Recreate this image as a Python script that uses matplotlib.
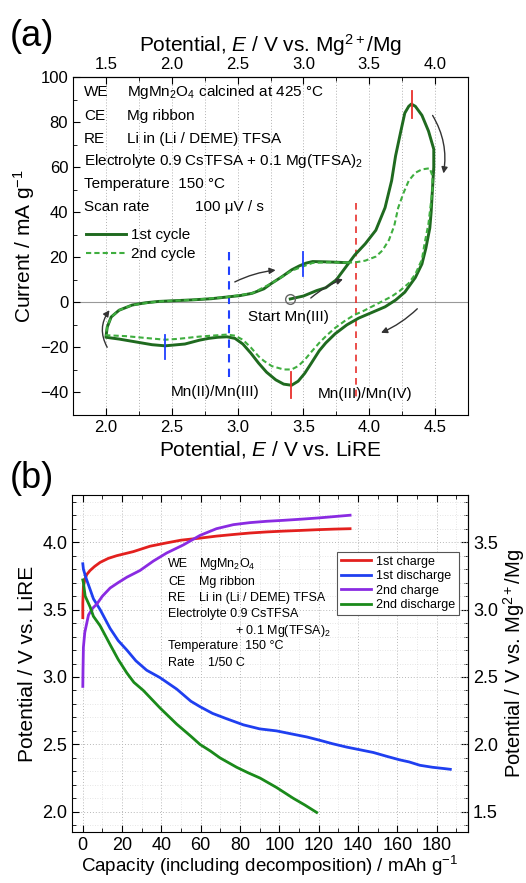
import matplotlib
matplotlib.use("Agg")
import matplotlib.pyplot as plt
from matplotlib.ticker import MultipleLocator, FormatStrFormatter

plt.rcParams['font.family'] = ['Liberation Sans', 'DejaVu Sans']
plt.rcParams['mathtext.fontset'] = 'custom'
plt.rcParams['mathtext.rm'] = 'Liberation Sans'
plt.rcParams['mathtext.it'] = 'Liberation Sans:italic'

# ---- (a) cyclic voltammogram ----
cv1_x = [3.40, 3.50, 3.60, 3.67, 3.75, 3.82, 3.89, 3.97, 4.05, 4.12, 4.17, 4.20, 4.24, 4.27, 4.30, 4.32,
         4.35, 4.40, 4.45, 4.49, 4.49, 4.48, 4.47, 4.46, 4.43, 4.40, 4.35, 4.27, 4.20, 4.12, 4.00, 3.92,
         3.83, 3.74, 3.67, 3.62, 3.56, 3.51, 3.46, 3.41, 3.35, 3.29, 3.22, 3.16, 3.10, 3.04, 2.98, 2.92,
         2.85, 2.78, 2.71, 2.60, 2.45, 2.35, 2.23, 2.10, 2.00, 2.01, 2.04, 2.10, 2.20, 2.30, 2.40, 2.55,
         2.66, 2.80, 2.91, 3.02, 3.11, 3.20, 3.26, 3.34, 3.41, 3.47, 3.52, 3.57, 3.65, 3.75, 3.83]
cv1_y = [1.5, 2.8, 5.2, 6.5, 10, 15.5, 21, 26, 32, 42, 54, 65, 76, 84, 87, 88,
         87, 83, 76, 68, 60, 50, 40, 33, 24, 17, 11, 4.5, 1, -2, -5, -7,
         -10, -14, -18, -21.5, -27, -31.5, -35, -36.8, -36.3, -34.4, -31, -27, -22.5, -18.5, -16, -15.3,
         -15.5, -16, -16.8, -18.5, -19.3, -18.8, -17.6, -16.3, -15.5, -11, -6.5, -3.5, -1.2, -0.2, 0.4, 0.8,
         1.1, 1.6, 2.3, 3, 4, 6, 8.5, 11.5, 14.4, 16.2, 17.4, 18.1, 18, 17.8, 17.6]

cv2_x = [3.83, 3.90, 3.97, 4.05, 4.10, 4.15, 4.19, 4.22, 4.26, 4.30, 4.35, 4.40, 4.46, 4.48, 4.48, 4.46,
         4.45, 4.42, 4.40, 4.35, 4.30, 4.23, 4.17, 4.10, 4.02, 3.95, 3.89, 3.82, 3.74, 3.68, 3.62, 3.56,
         3.51, 3.46, 3.41, 3.35, 3.26, 3.20, 3.16, 3.10, 3.04, 2.98, 2.92, 2.85, 2.71, 2.55, 2.45, 2.30,
         2.15, 2.00, 2.01, 2.04, 2.10, 2.20, 2.40, 2.66, 2.91, 3.11, 3.26, 3.41, 3.50, 3.57, 3.70, 3.83]
cv2_y = [17.6, 17.8, 18.5, 20.3, 23, 27.7, 34, 42, 48.5, 54, 57.5, 59, 59.5, 56, 50, 40,
         35, 26, 19, 12.5, 8.5, 5, 2.6, 0.5, -1.9, -4, -5.5, -8, -11.4, -14.5, -18, -22,
         -25.5, -28.3, -29.8, -29.8, -28.3, -26, -24, -20, -16.6, -14.8, -14.3, -14.6, -15.2, -16.2, -16.6, -15.8,
         -15.0, -14.6, -11, -6.5, -3.5, -1.2, 0.4, 1.1, 2.3, 4, 8.5, 14.0, 16.0, 17.5, 17.8, 17.6]

# ---- (b) charge / discharge ----
ch1_x = [0, 0, 0.3, 1, 2, 3.7, 6, 8.8, 13, 17.3, 25.7, 34.2, 42.7, 50, 59.6, 68, 76.6, 85, 93.6, 102,
         110.5, 120, 128, 136]
ch1_y = [3.44, 3.55, 3.67, 3.72, 3.76, 3.79, 3.82, 3.85, 3.88, 3.90, 3.93, 3.97, 3.995, 4.015, 4.03, 4.045,
         4.057, 4.068, 4.076, 4.082, 4.087, 4.093, 4.097, 4.10]
dis1_x = [0, 0.3, 1.5, 3.7, 5.4, 8.8, 13.9, 18, 22.4, 27, 32.5, 39.3, 47.8, 55, 59.6, 66, 73.2, 81.7, 90,
          98.6, 107.1, 114, 120.7, 127, 134.2, 141, 147.8, 155, 161.3, 166, 171.5, 178, 184.2, 187]
dis1_y = [3.84, 3.80, 3.74, 3.65, 3.58, 3.50, 3.36, 3.27, 3.20, 3.12, 3.05, 2.995, 2.91, 2.82, 2.78, 2.73,
          2.69, 2.645, 2.615, 2.60, 2.575, 2.555, 2.53, 2.505, 2.48, 2.46, 2.44, 2.41, 2.385, 2.37, 2.345,
          2.33, 2.32, 2.315]
ch2_x = [0, 0.1, 0.3, 1, 2.9, 5, 7.1, 10, 13.9, 18, 22.4, 29.1, 35.9, 42.7, 51.2, 59.6, 68, 76.6, 85,
         93.6, 102, 110.5, 120, 128, 136]
ch2_y = [2.93, 3.05, 3.22, 3.33, 3.46, 3.51, 3.54, 3.60, 3.66, 3.70, 3.74, 3.79, 3.86, 3.92, 3.98, 4.05,
         4.10, 4.13, 4.145, 4.155, 4.162, 4.17, 4.18, 4.19, 4.20]
dis2_x = [0, 0.3, 1.2, 3.7, 5.4, 8.8, 13.9, 18, 22.4, 26, 30.8, 39.3, 47.8, 55, 59.6, 65, 69.8, 78.3, 84,
          90.2, 98.6, 107.1, 113, 119]
dis2_y = [3.72, 3.70, 3.60, 3.52, 3.45, 3.38, 3.24, 3.13, 3.03, 2.96, 2.90, 2.77, 2.65, 2.56, 2.50, 2.45,
          2.40, 2.33, 2.29, 2.25, 2.18, 2.10, 2.05, 1.995]

W, H = 526, 883
fig = plt.figure(figsize=(W / 100, H / 100), dpi=100)


def fx(px):
    return px / W


def fy(py):
    return 1 - py / H


# ================= panel (a) =================
ax = fig.add_axes([fx(73), fy(415), (468 - 73) / W, (415 - 77) / H])
ax.set_xlim(1.75, 4.75)
ax.set_ylim(-50, 100)
ax.xaxis.set_major_locator(MultipleLocator(0.5))
ax.xaxis.set_minor_locator(MultipleLocator(0.25))
ax.yaxis.set_major_locator(MultipleLocator(20))
ax.yaxis.set_minor_locator(MultipleLocator(10))
ax.tick_params(which='both', direction='in', labelsize=12)
ax.tick_params(which='major', length=5)
ax.tick_params(which='minor', length=3)
ax.xaxis.set_major_formatter(FormatStrFormatter('%.1f'))
for xv in [2.0 + 0.25 * i for i in range(11)]:
    ax.axvline(xv, color='#b0b0b0', lw=0.7, ls=(0, (1, 2)), zorder=0)
ax.axhline(0, color='#999999', lw=0.8, zorder=0)

ax.plot(cv1_x, cv1_y, color='#1f6a1f', lw=2.1, label='1st cycle', zorder=3)
ax.plot(cv2_x, cv2_y, color='#3fae3f', lw=1.5, ls=(0, (2.5, 1.5)), label='2nd cycle', zorder=4)

ax.set_xlabel('Potential, $E$ / V vs. LiRE', fontsize=15, labelpad=3)
ax.set_ylabel('Current / mA g$^{-1}$', fontsize=15, labelpad=2)

top = ax.secondary_xaxis('top', functions=(lambda v: v - 0.5, lambda v: v + 0.5))
top.xaxis.set_major_locator(MultipleLocator(0.5))
top.xaxis.set_minor_locator(MultipleLocator(0.25))
top.tick_params(which='both', direction='in', labelsize=12)
top.tick_params(which='major', length=5)
top.tick_params(which='minor', length=3)
top.xaxis.set_major_formatter(FormatStrFormatter('%.1f'))
top.set_xlabel('Potential, $E$ / V vs. Mg$^{2+}$/Mg', fontsize=15, labelpad=4)

# markers
ax.plot([4.325, 4.325], [82, 94], color='#e8302c', lw=1.3, zorder=5)
ax.plot([3.405, 3.405], [-31, -42.5], color='#e8302c', lw=1.3, zorder=5)
ax.plot([2.45, 2.45], [-14.4, -25.2], color='#2040ff', lw=1.3, zorder=5)
ax.plot([3.50, 3.50], [11.8, 22.5], color='#2040ff', lw=1.3, zorder=5)
ax.plot([2.935, 2.935], [22.5, -34.4], color='#2040ff', lw=1.5, ls=(0, (4, 3)), zorder=2)
ax.plot([3.90, 3.90], [44, -42], color='#e8302c', lw=1.2, ls=(0, (4, 3)), zorder=2)
ax.plot([3.40], [1.4], marker='o', ms=7, mfc='none', mec='#666666', mew=1.0, zorder=6)

arrow = dict(arrowstyle='-|>', color='#333333', lw=1.0, mutation_scale=9)
ax.annotate('', xy=(3.31, 14.4), xytext=(2.96, 8.5),
            arrowprops=dict(arrow, connectionstyle='arc3,rad=-0.1'))
ax.annotate('', xy=(3.82, 10.7), xytext=(3.54, 1.1),
            arrowprops=dict(arrow, connectionstyle='arc3,rad=-0.1'))
ax.annotate('', xy=(4.56, 56), xytext=(4.47, 84),
            arrowprops=dict(arrow, connectionstyle='arc3,rad=-0.2'))
ax.annotate('', xy=(4.07, -14), xytext=(4.38, -2),
            arrowprops=dict(arrow, connectionstyle='arc3,rad=-0.1'))
ax.annotate('', xy=(2.04, -2.5), xytext=(2.02, -21),
            arrowprops=dict(arrow, connectionstyle='arc3,rad=-0.35'))

ax.text(3.39, -6.5, 'Start Mn(III)', fontsize=11, ha='center', va='center')
ax.text(2.83, -40, 'Mn(II)/Mn(III)', fontsize=11, ha='center', va='center')
ax.text(3.97, -40.5, 'Mn(III)/Mn(IV)', fontsize=11, ha='center', va='center')

col1, col2 = fx(84), fx(127)
fig.text(col1, fy(92), 'WE', fontsize=11, va='center')
fig.text(col2, fy(92), 'MgMn$_2$O$_4$ calcined at 425 °C', fontsize=11, va='center')
fig.text(col1, fy(116), 'CE', fontsize=11, va='center')
fig.text(col2, fy(116), 'Mg ribbon', fontsize=11, va='center')
fig.text(col1, fy(139), 'RE', fontsize=11, va='center')
fig.text(col2, fy(139), 'Li in (Li / DEME) TFSA', fontsize=11, va='center')
fig.text(col1, fy(161), 'Electrolyte 0.9 CsTFSA + 0.1 Mg(TFSA)$_2$', fontsize=11, va='center')
fig.text(col1, fy(184), 'Temperature  150 °C', fontsize=11, va='center')
fig.text(col1, fy(207), 'Scan rate', fontsize=11, va='center')
fig.text(fx(195), fy(207), '100 μV / s', fontsize=11, va='center')

ax.legend(loc='upper left', bbox_to_anchor=(fx(86), fy(228)), bbox_transform=fig.transFigure,
          frameon=False, fontsize=11, handlelength=2.6, handletextpad=0.35, labelspacing=0.35,
          borderpad=0, borderaxespad=0)

fig.text(fx(10), fy(36), '(a)', fontsize=26, va='center')

# ================= panel (b) =================
bx = fig.add_axes([fx(72), fy(832), (468 - 72) / W, (832 - 495) / H])
bx.set_xlim(-5.5, 196)
bx.set_ylim(1.85, 4.35)
bx.xaxis.set_major_locator(MultipleLocator(20))
bx.xaxis.set_minor_locator(MultipleLocator(10))
bx.yaxis.set_major_locator(MultipleLocator(0.5))
bx.yaxis.set_minor_locator(MultipleLocator(0.1))
bx.yaxis.set_major_formatter(FormatStrFormatter('%.1f'))
bx.tick_params(which='both', direction='in', labelsize=13, top=True)
bx.tick_params(which='major', length=5)
bx.tick_params(which='minor', length=3)
bx.grid(which='major', color='#b8b8b8', lw=0.7, ls=(0, (1, 2)))
bx.grid(which='minor', color='#dddddd', lw=0.6, ls=(0, (1, 2)))
bx.set_axisbelow(True)

bx.plot(ch1_x, ch1_y, color='#e3201e', lw=2, label='1st charge')
bx.plot(dis1_x, dis1_y, color='#1f3ff0', lw=2, label='1st discharge')
bx.plot(ch2_x, ch2_y, color='#8a2be2', lw=2, label='2nd charge')
bx.plot(dis2_x, dis2_y, color='#1a8a1a', lw=2, label='2nd discharge')

bx.set_xlabel('Capacity (including decomposition) / mAh g$^{-1}$', fontsize=13.5, labelpad=0)
bx.set_ylabel('Potential / V vs. LiRE', fontsize=15, labelpad=4)

rgt = bx.secondary_yaxis('right', functions=(lambda v: v - 0.5, lambda v: v + 0.5))
rgt.yaxis.set_major_locator(MultipleLocator(0.5))
rgt.yaxis.set_minor_locator(MultipleLocator(0.1))
rgt.yaxis.set_major_formatter(FormatStrFormatter('%.1f'))
rgt.tick_params(which='both', direction='in', labelsize=13)
rgt.tick_params(which='major', length=5)
rgt.tick_params(which='minor', length=3)
rgt.set_ylabel('Potential / V vs. Mg$^{2+}$/Mg', fontsize=14.5, labelpad=2)

leg = bx.legend(loc='upper right', bbox_to_anchor=(fx(459), fy(552)), bbox_transform=fig.transFigure,
                fontsize=9, handlelength=2.4, handletextpad=0.4, labelspacing=0.2,
                borderpad=0.3, borderaxespad=0, fancybox=False, framealpha=1)
leg.get_frame().set_edgecolor('#555555')
leg.get_frame().set_linewidth(0.8)

c1, c2 = fx(168), fx(199)
fig.text(c1, fy(564), 'WE', fontsize=9, va='center')
fig.text(c2, fy(564), 'MgMn$_2$O$_4$', fontsize=9, va='center')
fig.text(c1, fy(582), 'CE', fontsize=9, va='center')
fig.text(c2, fy(582), 'Mg ribbon', fontsize=9, va='center')
fig.text(c1, fy(598), 'RE', fontsize=9, va='center')
fig.text(c2, fy(598), 'Li in (Li / DEME) TFSA', fontsize=9, va='center')
fig.text(c1, fy(614), 'Electrolyte 0.9 CsTFSA', fontsize=9, va='center')
fig.text(fx(235), fy(631), '+ 0.1 Mg(TFSA)$_2$', fontsize=9, va='center')
fig.text(c1, fy(646), 'Temperature  150 °C', fontsize=9, va='center')
fig.text(c1, fy(663), 'Rate', fontsize=9, va='center')
fig.text(fx(208), fy(663), '1/50 C', fontsize=9, va='center')

fig.text(fx(10), fy(478), '(b)', fontsize=26, va='center')

fig.savefig('out.png', dpi=100)
